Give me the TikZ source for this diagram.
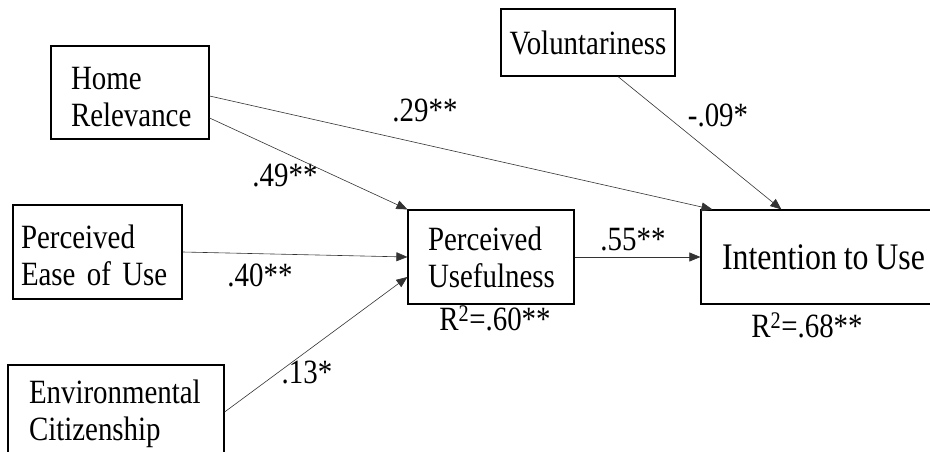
\documentclass[tikz,border=0pt]{standalone}
\usepackage{fontspec}
\setmainfont{Liberation Serif}[FakeStretch=0.85, WordSpace=0.85]
\usetikzlibrary{arrows.meta}

\begin{document}
\begin{tikzpicture}[x=1pt, y=-1pt, every node/.style={font=\fontsize{34}{37}\selectfont}, box/.style={draw=black, line width=1.2pt, inner ysep=0pt, align=left}, every edge/.style={draw=black!80, line width=0.6pt, -{Triangle[length=11pt,width=9pt]}}]
			\useasboundingbox (0,0) rectangle (930,452);
			\node[box, text width=118pt, inner xsep=20pt, minimum height=93pt, text height=30.6pt] (hr) at (130,92.5){Home\\Relevance};
			\node[box, text width=153pt, inner xsep=8pt, minimum height=94pt, text height=31pt] (peou) at (97.5,252){Perceived\\Ease of Use};
			\node[box, text width=174pt, inner xsep=21pt, minimum height=94pt, text height=26.5pt] (ec) at (116,412){Environmental\\Citizenship};
			\node[box, text width=126pt, inner xsep=20pt, minimum height=94pt, text height=25pt] (pu) at (491,257){Perceived\\Usefulness};
			\node[box, align=center, minimum width=245pt, minimum height=94pt, font=\fontsize{37.5}{37}\selectfont] (iu) at (823.5,257){Intention to Use};
			\node[box, align=center, minimum width=174pt, minimum height=67pt] (vol) at (588,42.5){Voluntariness};
			
			\node (c29) at (425,110){.29**};
			\node (c49) at (285,175){.49**};
			\node (c40) at (260,275){.40**};
			\node (c13) at (307,372){.13*};
			\node (c55) at (633,240){.55**};
			\node (c09) at (718,115){-.09*};
			\node (rpu) at (495,318){R\textsuperscript{2}=.60**};
			\node (riu) at (807,325){R\textsuperscript{2}=.68**};
			
			\path ([yshift=-3.5pt]hr.east) edge ([xshift=12pt]iu.north west);
			\path ([yshift=-25.5pt]hr.east) edge (pu.north west);
			\path (peou.east) edge (pu.west);
			\path (ec.east) edge ([yshift=-20pt]pu.west);
			\path (pu.east) edge (iu.west);
			\path ([xshift=30pt]vol.south) edge ([xshift=81pt]iu.north west);
			\end{tikzpicture}
\end{document}
